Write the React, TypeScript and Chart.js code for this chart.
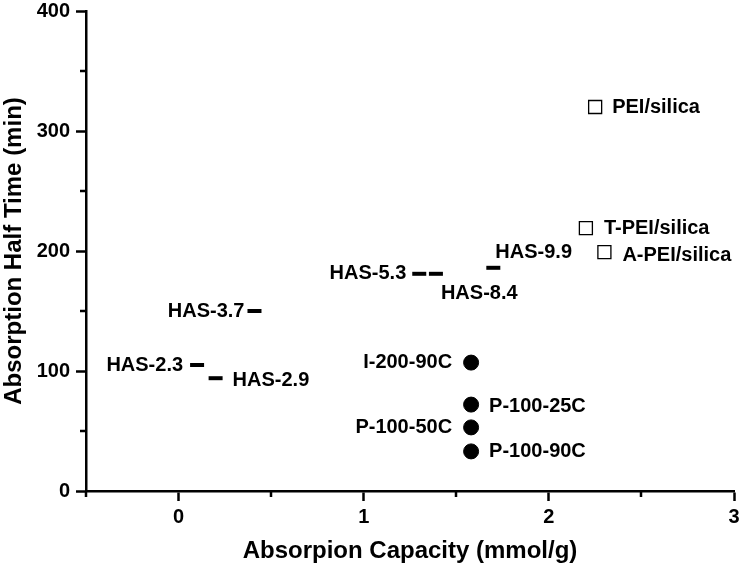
import React, { useEffect, useRef } from 'react';
import { Chart, registerables } from 'chart.js';

Chart.register(...registerables);

// ---- Data ----
const hasLabels = ['HAS-2.3', 'HAS-2.9', 'HAS-3.7', 'HAS-5.3', 'HAS-8.4', 'HAS-9.9'];
const hasCapacity = [0.1, 0.2, 0.41, 1.3, 1.39, 1.7];
const hasHalfTime = [105, 94, 150, 181, 181, 186];

const peiLabels = ['PEI/silica', 'T-PEI/silica', 'A-PEI/silica'];
const peiCapacity = [2.25, 2.2, 2.3];
const peiHalfTime = [320, 219, 199];

const pLabels = ['I-200-90C', 'P-100-25C', 'P-100-50C', 'P-100-90C'];
const pCapacity = [1.58, 1.58, 1.58, 1.58];
const pHalfTime = [107, 72, 53, 33];

const xMajorTicks = [0, 1, 2, 3];
const xMinorTicks = [-0.5, 0.5, 1.5, 2.5];
const yMajorTicks = [0, 100, 200, 300, 400];
const yMinorTicks = [50, 150, 250, 350];

const xTitle = 'Absorpion Capacity (mmol/g)';
const yTitle = 'Absorption Half Time (min)';

// ---- Label placement (style, not data) ----
type Placement = { align: 'left' | 'right'; dx: number; dy: number };
const labelPlacement: Record<string, Placement> = {
  'HAS-2.3': { align: 'right', dx: -14, dy: 0 },
  'HAS-2.9': { align: 'left', dx: 17, dy: 2 },
  'HAS-3.7': { align: 'right', dx: -10, dy: 0 },
  'HAS-5.3': { align: 'right', dx: -13, dy: 0 },
  'HAS-8.4': { align: 'left', dx: 5, dy: 20 },
  'HAS-9.9': { align: 'left', dx: 2, dy: -15 },
  'PEI/silica': { align: 'left', dx: 17, dy: 0 },
  'T-PEI/silica': { align: 'left', dx: 18, dy: 0 },
  'A-PEI/silica': { align: 'left', dx: 18, dy: 3 },
  'I-200-90C': { align: 'right', dx: -19, dy: 0 },
  'P-100-25C': { align: 'left', dx: 18, dy: 2 },
  'P-100-50C': { align: 'right', dx: -19, dy: 0 },
  'P-100-90C': { align: 'left', dx: 18, dy: 0 },
};

const FONT = '"Liberation Sans", Arial, Helvetica, sans-serif';

const toPoints = (xs: number[], ys: number[]) => xs.map((x, i) => ({ x, y: ys[i] }));

const pointLabelPlugin = {
  id: 'pointLabels',
  afterDatasetsDraw(chart: any) {
    const ctx = chart.ctx;
    ctx.save();
    ctx.font = `bold 20px ${FONT}`;
    ctx.fillStyle = '#000';
    ctx.textBaseline = 'middle';
    chart.data.datasets.forEach((ds: any, di: number) => {
      const meta = chart.getDatasetMeta(di);
      meta.data.forEach((el: any, j: number) => {
        const text = ds.pointLabels[j];
        const p = labelPlacement[text] || { align: 'left', dx: 15, dy: 0 };
        ctx.textAlign = p.align;
        ctx.fillText(text, el.x + p.dx, el.y + p.dy);
      });
    });
    ctx.restore();
  },
};

const minorTickPlugin = {
  id: 'minorTicks',
  afterDraw(chart: any) {
    const ctx = chart.ctx;
    const xs = chart.scales.x;
    const ys = chart.scales.y;
    const area = chart.chartArea;
    ctx.save();
    ctx.strokeStyle = '#000';
    ctx.lineWidth = 2.5;
    ctx.beginPath();
    xMinorTicks.forEach((v) => {
      const px = Math.round(xs.getPixelForValue(v));
      ctx.moveTo(px, area.bottom);
      ctx.lineTo(px, area.bottom + 6);
    });
    yMinorTicks.forEach((v) => {
      const py = Math.round(ys.getPixelForValue(v));
      ctx.moveTo(area.left - 6, py);
      ctx.lineTo(area.left, py);
    });
    ctx.stroke();
    ctx.restore();
  },
};

export default function App() {
  const ref = useRef<HTMLCanvasElement | null>(null);

  useEffect(() => {
    if (!ref.current) return;
    const chart = new Chart(ref.current, {
      type: 'scatter',
      data: {
        datasets: [
          {
            label: 'HAS',
            data: toPoints(hasCapacity, hasHalfTime),
            pointLabels: hasLabels,
            pointStyle: 'line',
            radius: 7,
            hoverRadius: 7,
            borderWidth: 4,
            hoverBorderWidth: 4,
            borderColor: '#000',
            backgroundColor: '#000',
          } as any,
          {
            label: 'PEI',
            data: toPoints(peiCapacity, peiHalfTime),
            pointLabels: peiLabels,
            pointStyle: 'rect',
            radius: 9.2,
            hoverRadius: 9.2,
            borderWidth: 1.3,
            hoverBorderWidth: 1.3,
            borderColor: '#000',
            backgroundColor: '#fff',
          } as any,
          {
            label: 'P',
            data: toPoints(pCapacity, pHalfTime),
            pointLabels: pLabels,
            pointStyle: 'circle',
            radius: 7.5,
            hoverRadius: 7.5,
            borderWidth: 1,
            hoverBorderWidth: 1,
            borderColor: '#000',
            backgroundColor: '#000',
          } as any,
        ],
      },
      options: {
        responsive: false,
        animation: false,
        events: [],
        layout: { padding: { left: 0, top: 9.5, right: 6, bottom: 0 } },
        plugins: {
          legend: { display: false },
          tooltip: { enabled: false },
        },
        scales: {
          x: {
            type: 'linear',
            min: -0.5,
            max: 3,
            afterBuildTicks: (s: any) => {
              s.ticks = xMajorTicks.map((v) => ({ value: v }));
            },
            afterFit: (s: any) => {
              s.height = 80;
              s.paddingLeft = 0;
              s.paddingRight = 0;
            },
            border: { display: true, color: '#000', width: 2.5 },
            grid: {
              drawOnChartArea: false,
              drawTicks: true,
              tickLength: 10,
              tickWidth: 2.5,
              tickColor: '#000',
            },
            ticks: {
              color: '#000',
              padding: 4,
              maxRotation: 0,
              font: { family: FONT, size: 20, weight: 'bold', lineHeight: 1.2 },
            },
            title: {
              display: true,
              text: xTitle,
              color: '#000',
              padding: { top: 0, bottom: 5 },
              font: { family: FONT, size: 24, weight: 'bold', lineHeight: 1.2 },
            },
          },
          y: {
            type: 'linear',
            min: 0,
            max: 400,
            afterBuildTicks: (s: any) => {
              s.ticks = yMajorTicks.map((v) => ({ value: v }));
            },
            afterFit: (s: any) => {
              s.width = 86;
              s.paddingTop = 0;
              s.paddingBottom = 0;
            },
            border: { display: true, color: '#000', width: 2.5 },
            grid: {
              drawOnChartArea: false,
              drawTicks: true,
              tickLength: 10,
              tickWidth: 2.5,
              tickColor: '#000',
            },
            ticks: {
              color: '#000',
              padding: 6,
              font: { family: FONT, size: 20, weight: 'bold', lineHeight: 1.2 },
            },
            title: {
              display: true,
              text: yTitle,
              color: '#000',
              padding: 0,
              font: { family: FONT, size: 24, weight: 'bold', lineHeight: 1.2 },
            },
          },
        },
      } as any,
      plugins: [pointLabelPlugin, minorTickPlugin],
    });
    return () => chart.destroy();
  }, []);

  return (
    <div style={{ position: 'absolute', left: 0, top: 0, width: 745, height: 571, background: '#fff' }}>
      <canvas ref={ref} width={745} height={571} style={{ display: 'block' }} />
    </div>
  );
}
